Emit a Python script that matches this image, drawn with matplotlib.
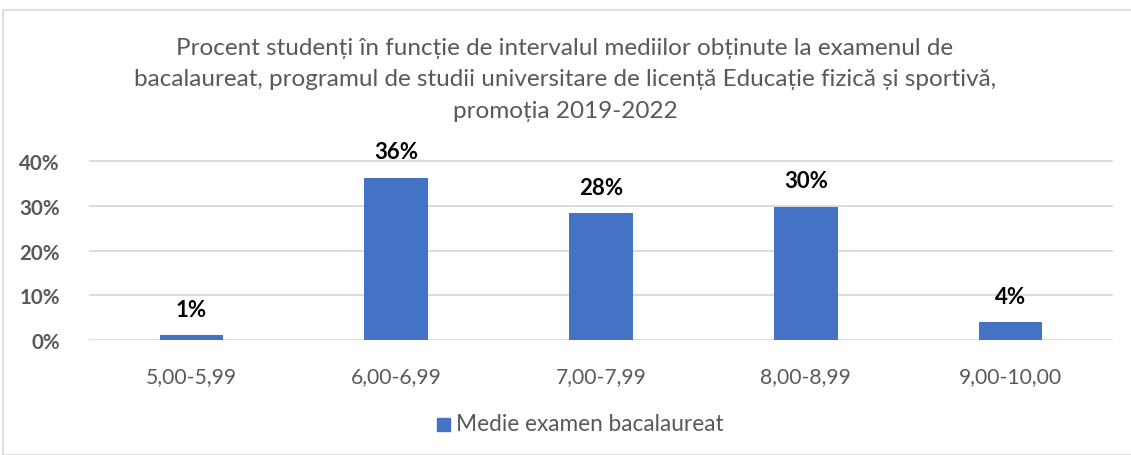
import matplotlib
matplotlib.use("Agg")
import matplotlib.pyplot as plt
from matplotlib.patches import Rectangle

categories = ["5,00-5,99", "6,00-6,99", "7,00-7,99", "8,00-8,99", "9,00-10,00"]
values = [1.1, 36.3, 28.4, 29.8, 4.0]
labels = ["1%", "36%", "28%", "30%", "4%"]
yticks = [0, 10, 20, 30, 40]
ytick_labels = ["0%", "10%", "20%", "30%", "40%"]
series_name = "Medie examen bacalaureat"
title = ("Procent studenți în funcție de intervalul mediilor obținute la examenul de\n"
         "bacalaureat, programul de studii universitare de licență Educație fizică și sportivă,\n"
         "promoția 2019-2022")

plt.rcParams['font.family'] = ['Lato', 'DejaVu Sans']
W, H = 1131, 456
fig = plt.figure(figsize=(W/100, H/100), dpi=100)

# chart border
fig.patches.append(Rectangle((3/W, 0), 1.2, 1 - 11/H, transform=fig.transFigure,
                             fill=False, edgecolor='#d9d9d9', linewidth=1.2))

ax = fig.add_axes([89/W, 1 - 341/H, (1113-89)/W, (341-162)/H * 44/40])
x = list(range(len(categories)))
ax.bar(x, values, width=0.31, color='#4472c4', zorder=3)
ax.set_xlim(-0.5, len(categories) - 0.5)
ax.set_ylim(0, 44)
ax.set_yticks(yticks)
ax.set_yticklabels(ytick_labels, fontsize=14.8, fontweight='bold', color='#595959')
ax.set_xticks(x)
ax.set_xticklabels(categories, fontsize=15.2, color='#595959')
ax.tick_params(length=0)
ax.tick_params(axis='x', pad=19)
ax.tick_params(axis='y', pad=21)
ax.grid(axis='y', color='#d9d9d9', linewidth=1.3, zorder=0)
for s in ax.spines.values():
    s.set_visible(False)
for xi, v, lab in zip(x, values, labels):
    ax.annotate(lab, (xi, v), xytext=(0, 18.5), textcoords='offset points',
                ha='center', va='center', fontsize=16,
                fontweight='bold', color='black')

fig.text(565/W, 1 - 80/H, title, ha='center', va='center', fontsize=17.5,
         color='#595959', linespacing=1.62)

# legend
fig.patches.append(Rectangle((437/W, 1 - 432/H), 13/W, 13/H, transform=fig.transFigure,
                             color='#4472c4'))
fig.text(456/W, 1 - 425/H, series_name, ha='left', va='center', fontsize=16.3,
         color='#595959')

fig.savefig("out.png", dpi=100)
